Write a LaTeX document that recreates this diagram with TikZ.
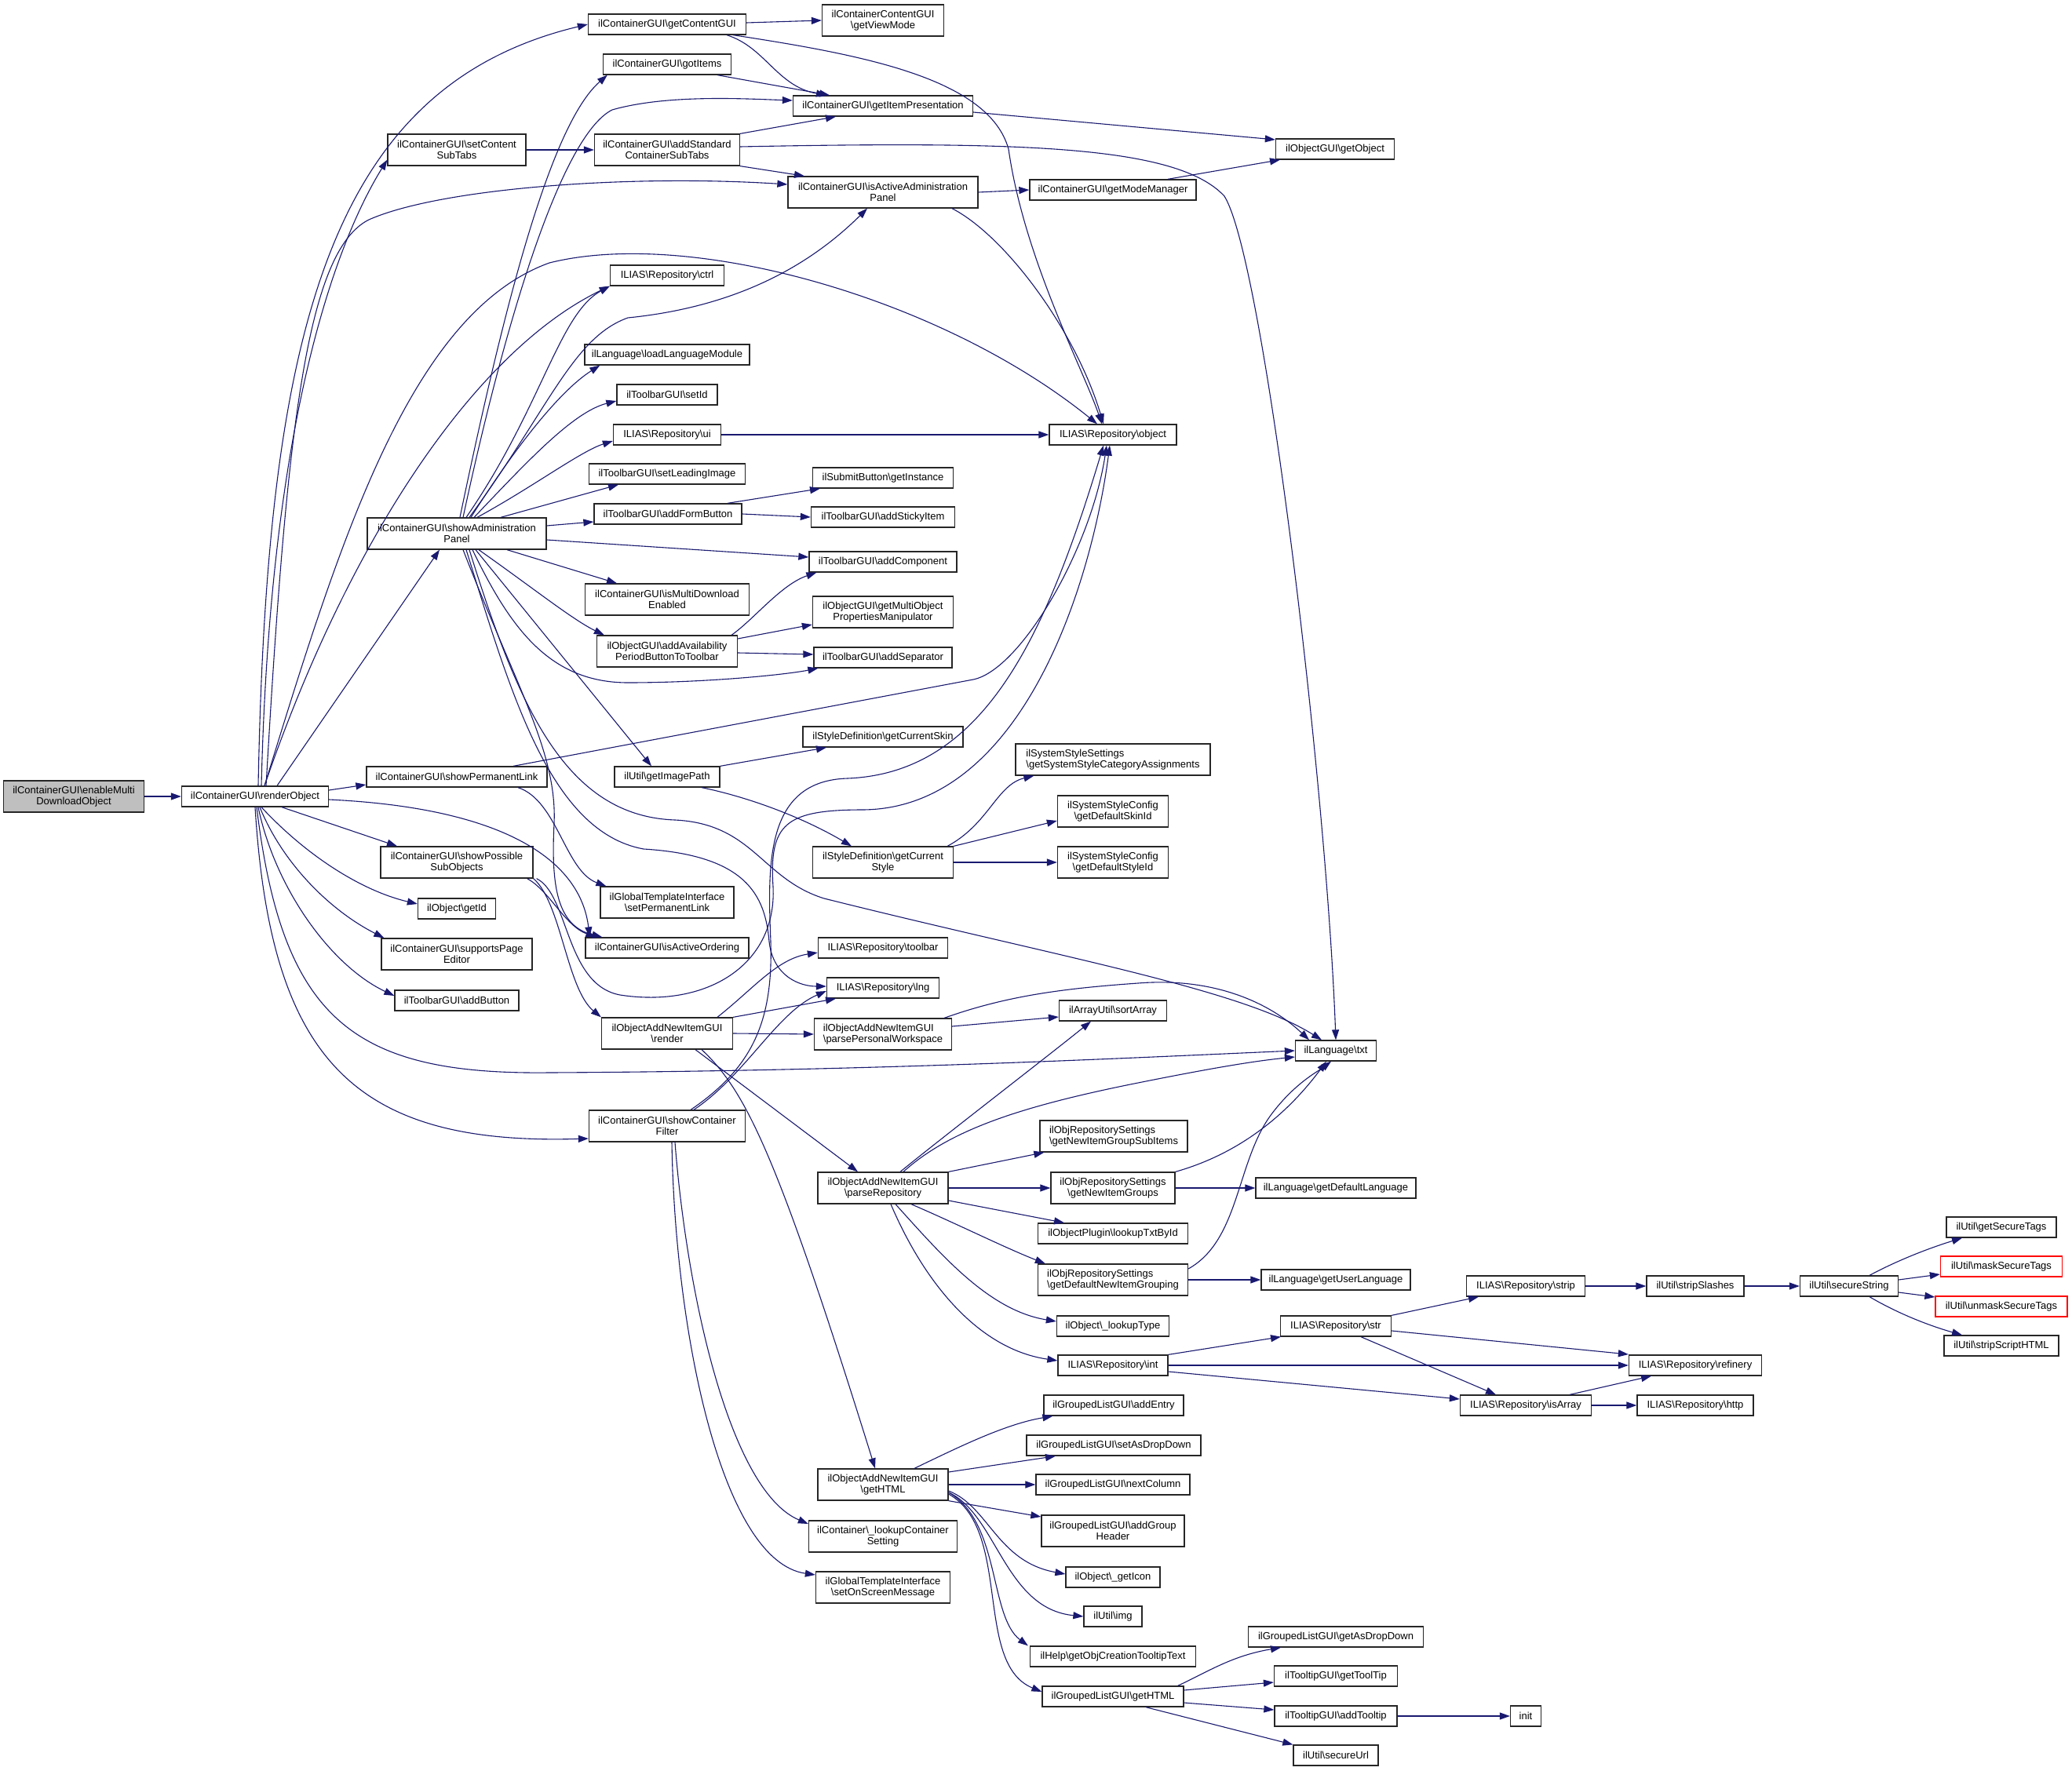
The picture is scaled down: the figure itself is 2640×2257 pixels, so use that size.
\documentclass[tikz,border=0pt]{standalone}
\usepackage{fontspec}
\setmainfont{Liberation Sans}
\usetikzlibrary{arrows.meta}
\definecolor{edgec}{HTML}{191970}
\def\bsl{\textbackslash}
\begin{document}
\begin{tikzpicture}[x=0.5pt,y=0.5pt,
  box/.style={draw=black!85,line width=0.65pt,fill=white,inner sep=1pt,minimum height=13pt,font=\fontsize{6.5pt}{7pt}\selectfont,align=center},
  two/.style={minimum height=20pt},
  bw/.style={minimum width=#1*0.5pt},
  redb/.style={draw=red},
  edge/.style={draw=edgec,line width=0.55pt,-{Triangle[length=6.5pt,width=4.5pt]}}]
\fill[white] (0,0) rectangle (2640,-2257);
\useasboundingbox (0,0) rectangle (2640,-2257);
% ---------- nodes ----------
\node[box,bw=179,two,fill=black!25] (root) at (94,-1015) {ilContainerGUI\bsl enableMulti\\DownloadObject};
\node[box,bw=187] (renderObject) at (325,-1015) {ilContainerGUI\bsl renderObject};
\node[box,bw=201] (getContentGUI) at (850,-31) {ilContainerGUI\bsl getContentGUI};
\node[box,bw=163] (gotItems) at (850,-82) {ilContainerGUI\bsl gotItems};
\node[box,bw=176,two] (setContentSubTabs) at (582,-191) {ilContainerGUI\bsl setContent\\SubTabs};
\node[box,bw=185,two] (addStdSubTabs) at (850,-191) {ilContainerGUI\bsl addStandard\\ContainerSubTabs};
\node[box,bw=145] (ctrl) at (850,-351) {ILIAS\bsl Repository\bsl ctrl};
\node[box,bw=210] (loadLangMod) at (850,-452) {ilLanguage\bsl loadLanguageModule};
\node[box,bw=128] (setId) at (850,-503) {ilToolbarGUI\bsl setId};
\node[box,bw=137] (ui) at (850,-554) {ILIAS\bsl Repository\bsl ui};
\node[box,bw=199] (setLeadingImage) at (850,-604) {ilToolbarGUI\bsl setLeadingImage};
\node[box,bw=188] (addFormButton) at (851,-655) {ilToolbarGUI\bsl addFormButton};
\node[box,bw=228,two] (showAdmin) at (582,-680) {ilContainerGUI\bsl showAdministration\\Panel};
\node[box,bw=209,two] (isMultiDl) at (850,-764) {ilContainerGUI\bsl isMultiDownload\\Enabled};
\node[box,bw=179,two] (addAvail) at (850,-830) {ilObjectGUI\bsl addAvailability\\PeriodButtonToToolbar};
\node[box,bw=230] (showPermLink) at (582,-990) {ilContainerGUI\bsl showPermanentLink};
\node[box,bw=134] (getImagePath) at (850,-990) {ilUtil\bsl getImagePath};
\node[box,bw=194,two] (showPossSub) at (582,-1099) {ilContainerGUI\bsl showPossible\\SubObjects};
\node[box,bw=99] (getId) at (582,-1158) {ilObject\bsl getId};
\node[box,bw=170,two] (setPermLink) at (850,-1150) {ilGlobalTemplateInterface\\\bsl setPermanentLink};
\node[box,bw=208] (isActiveOrdering) at (850,-1208) {ilContainerGUI\bsl isActiveOrdering};
\node[box,bw=192,two] (supportsPageEditor) at (582,-1216) {ilContainerGUI\bsl supportsPage\\Editor};
\node[box,bw=158] (addButton) at (582,-1275) {ilToolbarGUI\bsl addButton};
\node[box,bw=167,two] (render) at (850,-1317) {ilObjectAddNewItemGUI\\\bsl render};
\node[box,bw=199,two] (showContFilter) at (850,-1435) {ilContainerGUI\bsl showContainer\\Filter};
% column 5
\node[box,bw=155,two] (getViewMode) at (1125,-26) {ilContainerContentGUI\\\bsl getViewMode};
\node[box,bw=229] (getItemPresentation) at (1125,-135) {ilContainerGUI\bsl getItemPresentation};
\node[box,bw=242,two] (isActiveAdminPanel) at (1125,-245) {ilContainerGUI\bsl isActiveAdministration\\Panel};
\node[box,bw=179] (getInstance) at (1125,-609) {ilSubmitButton\bsl getInstance};
\node[box,bw=183] (addStickyItem) at (1125,-659) {ilToolbarGUI\bsl addStickyItem};
\node[box,bw=188] (addComponent) at (1125,-716) {ilToolbarGUI\bsl addComponent};
\node[box,bw=179,two] (getMultiObj) at (1125,-780) {ilObjectGUI\bsl getMultiObject\\PropertiesManipulator};
\node[box,bw=176] (addSeparator) at (1125,-838) {ilToolbarGUI\bsl addSeparator};
\node[box,bw=204] (getCurrentSkin) at (1125,-939) {ilStyleDefinition\bsl getCurrentSkin};
\node[box,bw=179,two] (getCurrentStyle) at (1125,-1099) {ilStyleDefinition\bsl getCurrent\\Style};
\node[box,bw=165] (toolbar) at (1125,-1208) {ILIAS\bsl Repository\bsl toolbar};
\node[box,bw=143] (lng) at (1125,-1259) {ILIAS\bsl Repository\bsl lng};
\node[box,bw=175,two,align=left] (parsePW) at (1125,-1318) {ilObjectAddNewItemGUI\\\bsl parsePersonalWorkspace};
\node[box,bw=166,two] (parseRepo) at (1125,-1514) {ilObjectAddNewItemGUI\\\bsl parseRepository};
\node[box,bw=166,two] (getHTMLnew) at (1125,-1892) {ilObjectAddNewItemGUI\\\bsl getHTML};
\node[box,bw=189,two] (lookupContSetting) at (1125,-1958) {ilContainer\bsl\_lookupContainer\\Setting};
\node[box,bw=171,two] (setOnScreen) at (1125,-2023) {ilGlobalTemplateInterface\\\bsl setOnScreenMessage};
% column 6
\node[box,bw=212] (getModeManager) at (1418,-242) {ilContainerGUI\bsl getModeManager};
\node[box,bw=162] (repoObject) at (1418,-554) {ILIAS\bsl Repository\bsl object};
\node[box,bw=248,two,align=left] (sysStyleCat) at (1418,-968) {ilSystemStyleSettings\\\bsl getSystemStyleCategoryAssignments};
\node[box,bw=141,two] (defSkinId) at (1418,-1034) {ilSystemStyleConfig\\\bsl getDefaultSkinId};
\node[box,bw=141,two] (defStyleId) at (1418,-1099) {ilSystemStyleConfig\\\bsl getDefaultStyleId};
\node[box,bw=137] (sortArray) at (1418,-1288) {ilArrayUtil\bsl sortArray};
\node[box,bw=188,two,align=left] (newItemGroupSub) at (1419,-1448) {ilObjRepositorySettings\\\bsl getNewItemGroupSubItems};
\node[box,bw=158,two] (newItemGroups) at (1418,-1514) {ilObjRepositorySettings\\\bsl getNewItemGroups};
\node[box,bw=191] (lookupTxtById) at (1418,-1572) {ilObjectPlugin\bsl lookupTxtById};
\node[box,bw=191,two,align=left] (defNewItemGrouping) at (1418,-1631) {ilObjRepositorySettings\\\bsl getDefaultNewItemGrouping};
\node[box,bw=143] (lookupType) at (1418,-1690) {ilObject\bsl\_lookupType};
\node[box,bw=140] (intn) at (1418,-1740) {ILIAS\bsl Repository\bsl int};
\node[box,bw=178] (addEntry) at (1419,-1791) {ilGroupedListGUI\bsl addEntry};
\node[box,bw=222] (setAsDropDown) at (1419,-1842) {ilGroupedListGUI\bsl setAsDropDown};
\node[box,bw=196] (nextColumn) at (1418,-1892) {ilGroupedListGUI\bsl nextColumn};
\node[box,bw=182,two] (addGroupHeader) at (1418,-1951) {ilGroupedListGUI\bsl addGroup\\Header};
\node[box,bw=120] (getIcon) at (1418,-2010) {ilObject\bsl\_getIcon};
\node[box,bw=74] (img) at (1418,-2060) {ilUtil\bsl img};
\node[box,bw=211] (tooltipText) at (1418,-2111) {ilHelp\bsl getObjCreationTooltipText};
\node[box,bw=180] (glGetHTML) at (1418,-2162) {ilGroupedListGUI\bsl getHTML};
% column 7
\node[box,bw=151] (getObject) at (1701,-190) {ilObjectGUI\bsl getObject};
\node[box,bw=103] (txt) at (1702,-1339) {ilLanguage\bsl txt};
\node[box,bw=204] (getDefLang) at (1702,-1514) {ilLanguage\bsl getDefaultLanguage};
\node[box,bw=190] (getUserLang) at (1702,-1631) {ilLanguage\bsl getUserLanguage};
\node[box,bw=141] (str) at (1702,-1690) {ILIAS\bsl Repository\bsl str};
\node[box,bw=223] (getAsDropDown) at (1702,-2086) {ilGroupedListGUI\bsl getAsDropDown};
\node[box,bw=157] (getToolTip) at (1702,-2136) {ilTooltipGUI\bsl getToolTip};
\node[box,bw=156] (addTooltip) at (1702,-2187) {ilTooltipGUI\bsl addTooltip};
\node[box,bw=108] (secureUrl) at (1702,-2237) {ilUtil\bsl secureUrl};
% columns 8-11
\node[box,bw=151] (strip) at (1944,-1639) {ILIAS\bsl Repository\bsl strip};
\node[box,bw=167] (isArray) at (1944,-1791) {ILIAS\bsl Repository\bsl isArray};
\node[box,bw=39] (init) at (1944,-2187) {init};
\node[box,bw=124] (stripSlashes) at (2160,-1639) {ilUtil\bsl stripSlashes};
\node[box,bw=169] (refinery) at (2160,-1740) {ILIAS\bsl Repository\bsl refinery};
\node[box,bw=148] (http) at (2160,-1791) {ILIAS\bsl Repository\bsl http};
\node[box,bw=125] (secureString) at (2356,-1639) {ilUtil\bsl secureString};
\node[box,bw=140] (getSecureTags) at (2550,-1564) {ilUtil\bsl getSecureTags};
\node[box,bw=155,redb] (maskSecureTags) at (2550,-1614) {ilUtil\bsl maskSecureTags};
\node[box,bw=168,redb] (unmaskSecureTags) at (2550,-1665) {ilUtil\bsl unmaskSecureTags};
\node[box,bw=146] (stripScriptHTML) at (2550,-1715) {ilUtil\bsl stripScriptHTML};
% ---------- edges ----------
\draw[edge] (root) -- (renderObject);
% renderObject
\draw[edge] ([xshift=2pt]renderObject.north) .. controls (340,-420) and (420,-110) .. (getContentGUI.west);
\draw[edge] ([xshift=4pt]renderObject.north) .. controls (345,-500) and (440,-290) .. ([yshift=4pt]setContentSubTabs.south west);
\draw[edge] ([xshift=7pt]renderObject.north) .. controls (365,-550) and (390,-320) .. (470,-280) .. controls (560,-240) and (800,-222) .. ([yshift=5pt]isActiveAdminPanel.west);
\draw[edge] ([xshift=6pt]renderObject.north) .. controls (430,-700) and (520,-400) .. (700,-335) .. controls (880,-290) and (1200,-380) .. ([xshift=-10pt]repoObject.north);
\draw[edge] ([xshift=6pt]renderObject.north) .. controls (440,-700) and (600,-450) .. (ctrl.south west);
\draw[edge] ([xshift=14pt]renderObject.north) -- ([xshift=-11pt]showAdmin.south);
\draw[edge] ([yshift=4pt]renderObject.east) -- ([yshift=-5pt]showPermLink.west);
\draw[edge] ([yshift=-2pt]renderObject.east) .. controls (650,-1030) and (740,-1100) .. ([xshift=3pt]isActiveOrdering.north west);
\draw[edge] ([xshift=17pt]renderObject.south) -- ([xshift=-38pt]showPossSub.north);
\draw[edge] ([xshift=4pt]renderObject.south) .. controls (390,-1090) and (460,-1135) .. ([yshift=3pt]getId.west);
\draw[edge] ([xshift=3pt]renderObject.south) .. controls (360,-1100) and (420,-1160) .. ([xshift=2pt]supportsPageEditor.north west);
\draw[edge] ([xshift=2pt]renderObject.south) .. controls (350,-1130) and (420,-1230) .. ([yshift=3pt]addButton.west);
\draw[edge] ([xshift=1pt]renderObject.south) .. controls (360,-1300) and (450,-1370) .. (700,-1367) .. controls (1100,-1365) and (1400,-1350) .. (txt.west);
\draw[edge] (renderObject.south) .. controls (345,-1350) and (450,-1460) .. ([yshift=-8pt]showContFilter.west);
\draw[edge] (setContentSubTabs) -- (addStdSubTabs);
% getContentGUI, gotItems, addStandard
\draw[edge] ([yshift=1pt]getContentGUI.east) -- (getViewMode.west);
\draw[edge] ([xshift=38pt]getContentGUI.south) .. controls (975,-60) and (990,-110) .. ([xshift=-36pt]getItemPresentation.north);
\draw[edge] ([xshift=42pt]getContentGUI.south) .. controls (1100,-70) and (1260,-100) .. (1285,-190) .. controls (1305,-330) and (1380,-470) .. ([xshift=-7pt]repoObject.north);
\draw[edge] ([xshift=32pt]gotItems.south) -- ([xshift=-34pt]getItemPresentation.north);
\draw[edge] (addStdSubTabs.north east) -- ([xshift=-30pt]getItemPresentation.south);
\draw[edge] (addStdSubTabs.south east) -- ([xshift=-50pt]isActiveAdminPanel.north);
\draw[edge] ([yshift=2pt]addStdSubTabs.east) .. controls (1300,-180) and (1500,-185) .. (1560,-250) .. controls (1610,-330) and (1690,-1000) .. (txt.north);
\draw[edge] ([yshift=-4pt]getItemPresentation.east) -- ([yshift=6pt]getObject.west);
\draw[edge] (isActiveAdminPanel.east) -- (getModeManager.west);
\draw[edge] ([xshift=44pt]isActiveAdminPanel.south) .. controls (1280,-300) and (1370,-420) .. ([xshift=-6pt]repoObject.north);
\draw[edge] ([xshift=35pt]getModeManager.north) -- ([xshift=-35pt]getObject.south);
% showAdministrationPanel
\draw[edge] ([xshift=2pt]showAdmin.north) .. controls (640,-400) and (700,-160) .. ([xshift=3pt]gotItems.south west);
\draw[edge] ([xshift=4pt]showAdmin.north) .. controls (650,-380) and (720,-170) .. (780,-140) .. controls (850,-120) and (950,-126) .. ([yshift=3.5pt]getItemPresentation.west);
\draw[edge] ([xshift=6pt]showAdmin.north) .. controls (690,-520) and (712,-400) .. (ctrl.south west);
\draw[edge] ([xshift=8pt]showAdmin.north) .. controls (700,-520) and (730,-430) .. (800,-405) .. controls (950,-390) and (1040,-330) .. ([xshift=-10pt]isActiveAdminPanel.south);
\draw[edge] ([xshift=9pt]showAdmin.north) .. controls (650,-580) and (710,-500) .. ([xshift=10pt]loadLangMod.south west);
\draw[edge] ([xshift=11pt]showAdmin.north) .. controls (670,-590) and (730,-525) .. ([yshift=-4pt]setId.west);
\draw[edge] ([xshift=13pt]showAdmin.north) .. controls (680,-620) and (740,-575) .. ([yshift=-4pt]ui.west);
\draw[edge] ([xshift=28pt]showAdmin.north) -- ([xshift=-31pt]setLeadingImage.south);
\draw[edge] ([yshift=5pt]showAdmin.east) -- ([yshift=-5pt]addFormButton.west);
\draw[edge] ([yshift=-4pt]showAdmin.east) -- ([yshift=3pt]addComponent.west);
\draw[edge] ([xshift=32pt]showAdmin.south) -- ([xshift=-32pt]isMultiDl.north);
\draw[edge] ([xshift=14pt]showAdmin.south) .. controls (680,-750) and (730,-790) .. ([xshift=5pt]addAvail.north west);
\draw[edge] ([xshift=10pt]showAdmin.south) .. controls (650,-800) and (700,-870) .. (800,-870) .. controls (900,-870) and (1000,-860) .. ([xshift=3pt]addSeparator.south west);
\draw[edge] ([xshift=12pt]showAdmin.south) -- ([xshift=-10pt]getImagePath.north);
\draw[edge] ([xshift=8pt]showAdmin.south) .. controls (660,-900) and (720,-1040) .. (860,-1045) .. controls (960,-1050) and (970,-1120) .. (1050,-1145) .. controls (1350,-1220) and (1580,-1260) .. ([xshift=-9pt]txt.north);
\draw[edge] ([xshift=6pt]showAdmin.south) .. controls (650,-880) and (700,-1060) .. (820,-1082) .. controls (950,-1090) and (975,-1140) .. (980,-1200) .. controls (985,-1245) and (1020,-1257) .. ([yshift=1pt]lng.west);
\draw[edge] ([xshift=4pt]showAdmin.south) .. controls (660,-880) and (710,-960) .. (706,-1050) .. controls (702,-1130) and (710,-1180) .. ([xshift=11pt]isActiveOrdering.north west);
% toolbar buttons
\draw[edge] ([xshift=38pt]addFormButton.north) -- ([xshift=-40pt]getInstance.south);
\draw[edge] (addFormButton.east) -- (addStickyItem.west);
\draw[edge] (ui) -- (repoObject);
\draw[edge] ([xshift=41pt]addAvail.north) .. controls (960,-790) and (995,-745) .. ([xshift=5pt]addComponent.south west);
\draw[edge] ([yshift=8pt]addAvail.east) -- ([yshift=-8pt]getMultiObj.west);
\draw[edge] ([yshift=-1pt]addAvail.east) -- ([yshift=2pt]addSeparator.west);
% permanent link, image path, style
\draw[edge] ([xshift=36pt]showPermLink.north) -- (1240,-866) .. controls (1300,-854) and (1390,-700) .. ([xshift=-4pt]repoObject.south);
\draw[edge] ([xshift=39pt]showPermLink.south) .. controls (710,-1020) and (720,-1110) .. ([xshift=4pt]setPermLink.north west);
\draw[edge] (getImagePath.north east) -- ([xshift=-36pt]getCurrentSkin.south);
\draw[edge] ([xshift=22pt]getImagePath.south) .. controls (950,-1015) and (1020,-1040) .. ([xshift=-20pt]getCurrentStyle.north);
\draw[edge] ([xshift=-4pt]getCurrentStyle.north east) .. controls (1260,-1050) and (1270,-1000) .. ([xshift=12pt]sysStyleCat.south west);
\draw[edge] (getCurrentStyle.north east) -- ([yshift=-6pt]defSkinId.west);
\draw[edge] (getCurrentStyle) -- (defStyleId);
% possible sub objects
\draw[edge] ([xshift=-4pt]showPossSub.south east) .. controls (700,-1135) and (720,-1180) .. ([xshift=7pt]isActiveOrdering.north west);
\draw[edge] (showPossSub.south east) .. controls (715,-1150) and (722,-1260) .. (render.north west);
\draw[edge] ([xshift=2pt]showPossSub.south east) .. controls (725,-1140) and (720,-1255) .. (790,-1268) .. controls (900,-1285) and (990,-1230) .. (985,-1130) .. controls (980,-1050) and (1000,-1032) .. (1100,-1032) .. controls (1300,-1030) and (1390,-750) .. ([xshift=-2pt]repoObject.south);
% container filter
\draw[edge] ([xshift=15pt]showContFilter.north) .. controls (960,-1360) and (985,-1300) .. (982,-1200) .. controls (978,-1100) and (975,-995) .. (1080,-992) .. controls (1250,-985) and (1330,-820) .. ([xshift=-6pt]repoObject.south);
\draw[edge] ([xshift=17pt]showContFilter.north) .. controls (950,-1370) and (990,-1290) .. ([yshift=-2pt]lng.west);
\draw[edge] ([xshift=5pt]showContFilter.south) .. controls (875,-1650) and (930,-1900) .. ([yshift=8pt]lookupContSetting.west);
\draw[edge] ([xshift=3pt]showContFilter.south) .. controls (860,-1700) and (920,-1990) .. ([yshift=8pt]setOnScreen.west);
% render
\draw[edge] ([xshift=32pt]render.north) .. controls (960,-1260) and (990,-1222) .. ([yshift=-3pt]toolbar.west);
\draw[edge] (render.north east) -- ([xshift=-30pt]lng.south);
\draw[edge] (render.east) -- (parsePW.west);
\draw[edge] ([xshift=18pt]render.south) -- ([xshift=-16pt]parseRepo.north);
\draw[edge] ([xshift=22pt]render.south) .. controls (950,-1390) and (990,-1470) .. ([xshift=-5pt]getHTMLnew.north);
% parse personal workspace / repository
\draw[edge] ([yshift=5pt]parsePW.east) -- ([yshift=-4pt]sortArray.west);
\draw[edge] ([xshift=-5pt]parsePW.north east) .. controls (1280,-1270) and (1350,-1260) .. (1450,-1253) .. controls (1550,-1245) and (1620,-1280) .. ([xshift=-17pt]txt.north);
\draw[edge] ([xshift=11pt]parseRepo.north) .. controls (1200,-1450) and (1330,-1350) .. ([xshift=-14pt]sortArray.south);
\draw[edge] ([xshift=13pt]parseRepo.north) .. controls (1210,-1440) and (1300,-1410) .. (1450,-1380) .. controls (1550,-1360) and (1600,-1352) .. ([yshift=-4pt]txt.west);
\draw[edge] (parseRepo.north east) -- ([xshift=3pt]newItemGroupSub.south west);
\draw[edge] (parseRepo) -- (newItemGroups);
\draw[edge] ([yshift=-8pt]parseRepo.east) -- ([xshift=-31pt]lookupTxtById.north);
\draw[edge] ([xshift=18pt]parseRepo.south) .. controls (1220,-1560) and (1280,-1590) .. ([xshift=5pt]defNewItemGrouping.north west);
\draw[edge] ([xshift=8pt]parseRepo.south) .. controls (1200,-1600) and (1260,-1670) .. ([yshift=3pt]lookupType.west);
\draw[edge] ([xshift=5pt]parseRepo.south) .. controls (1180,-1640) and (1250,-1720) .. ([yshift=3pt]intn.west);
\draw[edge] (newItemGroups) -- (getDefLang);
\draw[edge] (newItemGroups.north east) .. controls (1580,-1470) and (1640,-1420) .. ([xshift=-6pt]txt.south);
\draw[edge] (defNewItemGrouping) -- (getUserLang);
\draw[edge] ([yshift=7pt]defNewItemGrouping.east) .. controls (1580,-1580) and (1575,-1480) .. (1620,-1420) .. controls (1650,-1380) and (1680,-1365) .. ([xshift=-3pt]txt.south);
% int / str / isArray
\draw[edge] (intn.north east) -- ([xshift=-35pt]str.south);
\draw[edge] (intn) -- (refinery);
\draw[edge] ([yshift=-4pt]intn.east) -- ([yshift=4pt]isArray.west);
\draw[edge] (str.north east) -- ([xshift=-30pt]strip.south);
\draw[edge] ([yshift=-3pt]str.east) -- ([yshift=7pt]refinery.west);
\draw[edge] ([xshift=16pt]str.south) -- ([xshift=-19pt]isArray.north);
\draw[edge] ([xshift=28pt]isArray.north) -- ([xshift=-28pt]refinery.south);
\draw[edge] (isArray) -- (http);
\draw[edge] (strip) -- (stripSlashes);
\draw[edge] (stripSlashes) -- (secureString);
\draw[edge] ([xshift=13pt]secureString.north) .. controls (2420,-1605) and (2460,-1590) .. ([xshift=-25pt]getSecureTags.south);
\draw[edge] ([yshift=4pt]secureString.east) -- ([yshift=-5pt]maskSecureTags.west);
\draw[edge] ([yshift=-4pt]secureString.east) -- ([yshift=6pt]unmaskSecureTags.west);
\draw[edge] ([xshift=13pt]secureString.south) .. controls (2420,-1675) and (2460,-1690) .. ([xshift=-25pt]stripScriptHTML.north);
% getHTML
\draw[edge] ([xshift=20pt]getHTMLnew.north) .. controls (1220,-1845) and (1280,-1815) .. ([xshift=6pt]addEntry.south west);
\draw[edge] ([yshift=8pt]getHTMLnew.east) -- ([xshift=-37pt]setAsDropDown.south);
\draw[edge] (getHTMLnew) -- (nextColumn);
\draw[edge] (getHTMLnew.south east) -- ([yshift=9pt]addGroupHeader.west);
\draw[edge] ([yshift=-4pt]getHTMLnew.east) .. controls (1260,-1920) and (1270,-1990) .. ([yshift=2pt]getIcon.west);
\draw[edge] ([yshift=-5pt]getHTMLnew.east) .. controls (1270,-1930) and (1280,-2050) .. (img.west);
\draw[edge] ([yshift=-5pt]getHTMLnew.east) .. controls (1275,-1940) and (1260,-2060) .. ([xshift=-1pt]tooltipText.north west);
\draw[edge] ([yshift=-6pt]getHTMLnew.east) .. controls (1290,-1950) and (1240,-2120) .. ([yshift=3pt]glGetHTML.west);
\draw[edge] ([xshift=-4pt]glGetHTML.north east) .. controls (1540,-2130) and (1570,-2110) .. ([xshift=-35pt]getAsDropDown.south);
\draw[edge] ([yshift=4pt]glGetHTML.east) -- ([yshift=-4pt]getToolTip.west);
\draw[edge] ([yshift=-4pt]glGetHTML.east) -- ([yshift=4pt]addTooltip.west);
\draw[edge] ([xshift=21pt]glGetHTML.south) -- (secureUrl.north west);
\draw[edge] (addTooltip) -- (init);
\end{tikzpicture}
\end{document}
